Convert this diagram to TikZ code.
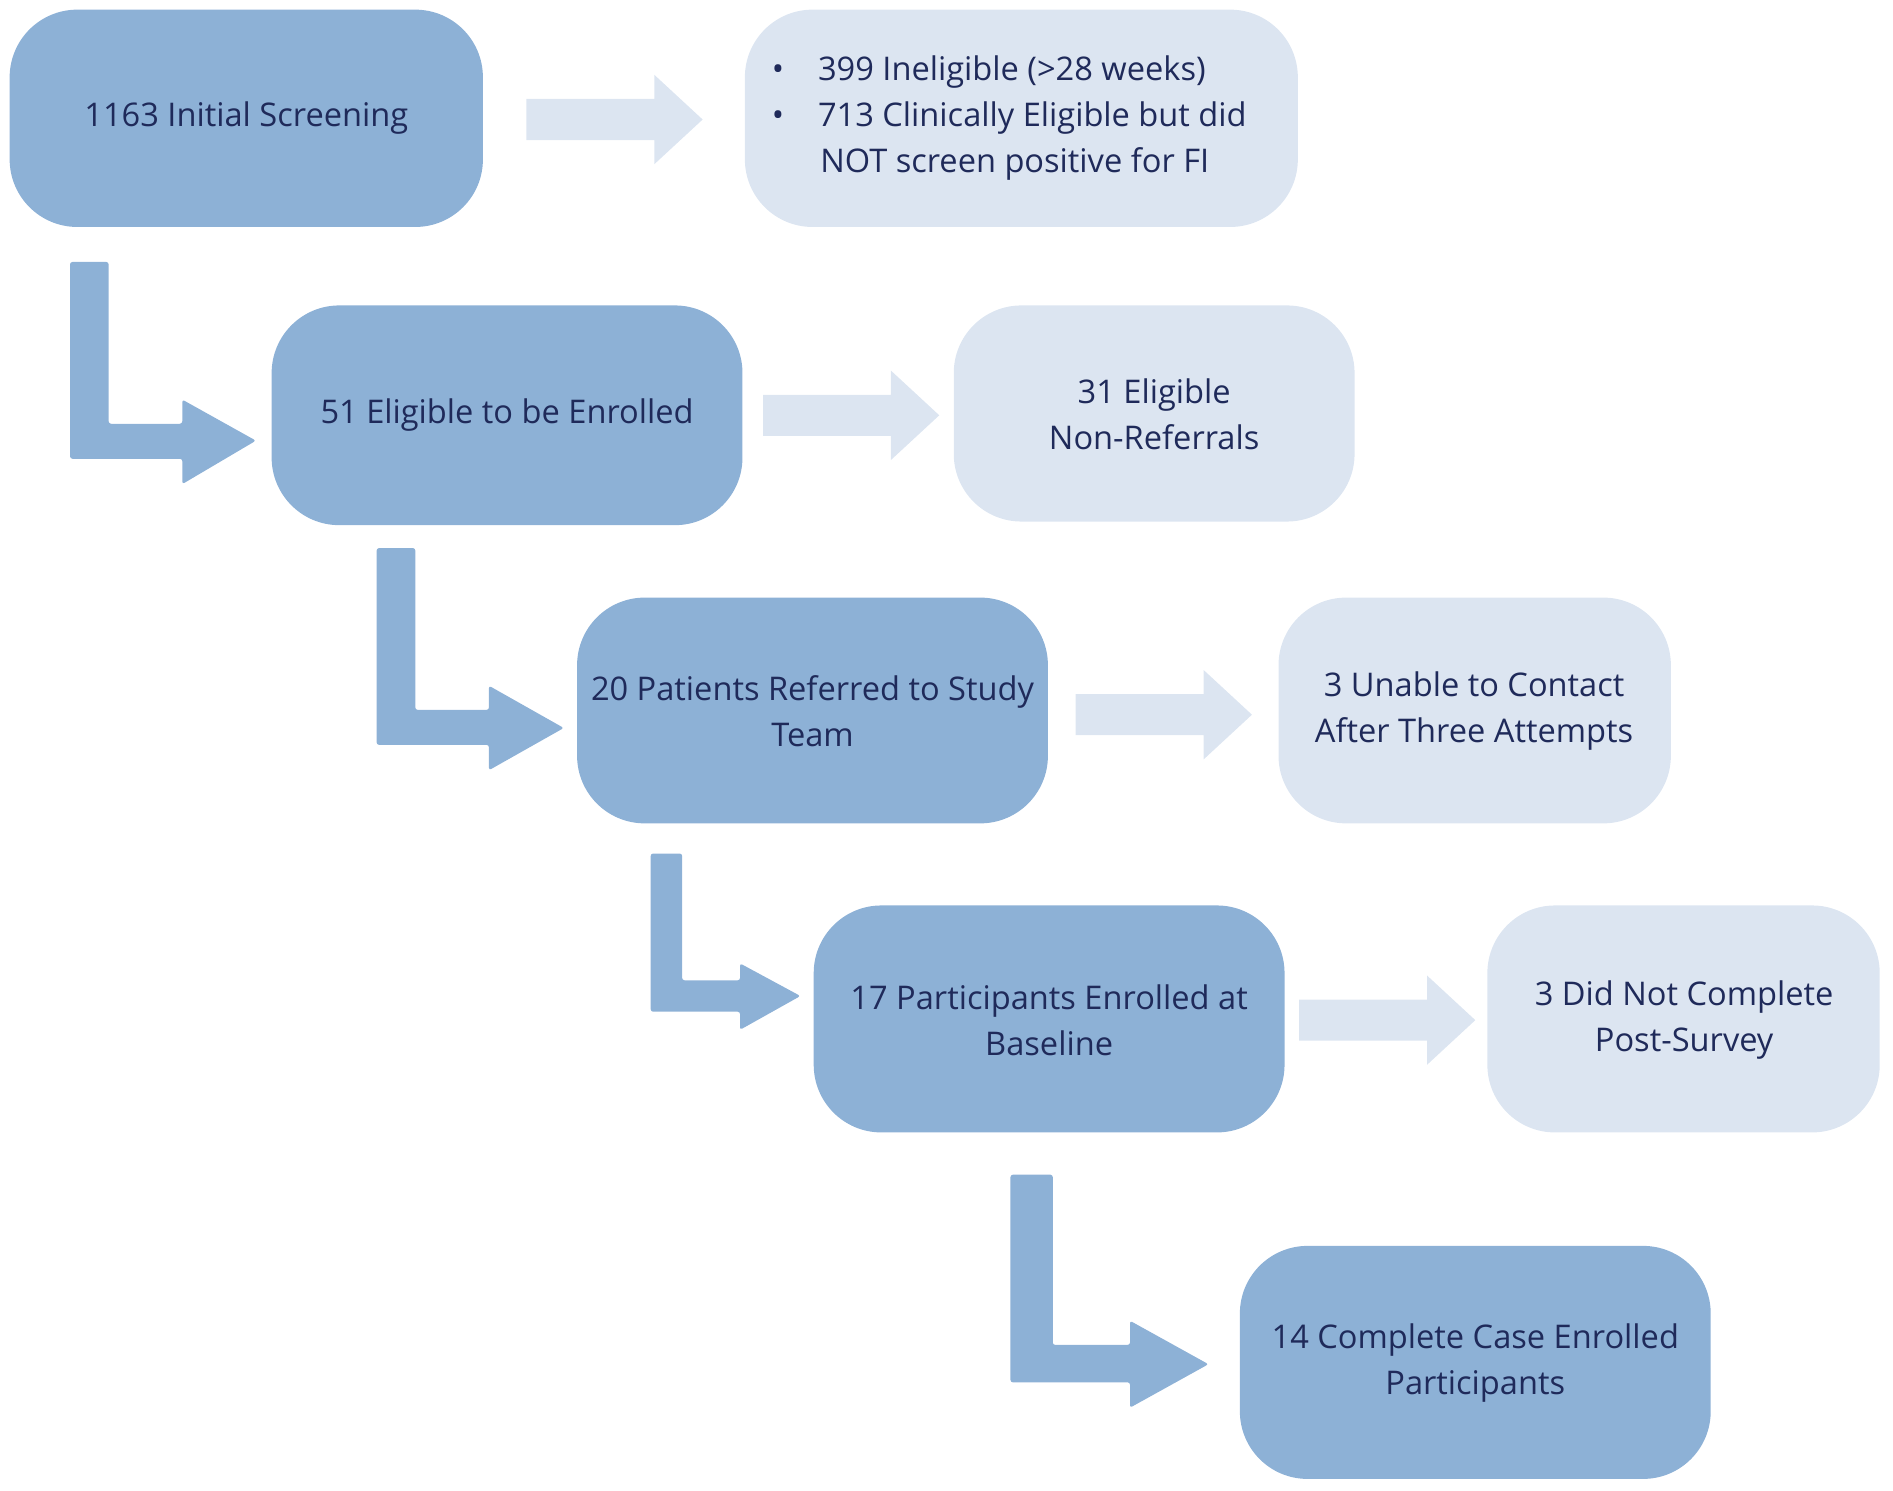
\documentclass[tikz,border=0pt]{standalone}
\usepackage{fontspec}
\setmainfont{Open Sans}
\definecolor{dk}{HTML}{8DB1D6}
\definecolor{lt}{HTML}{DCE5F1}
\definecolor{tx}{HTML}{1F2A5A}
\begin{document}
\begin{tikzpicture}[x=0.5pt,y=-0.5pt,
 dbox/.style={fill=dk,draw=none,rounded corners=28pt},
 lbox/.style={fill=lt,draw=none,rounded corners=28pt},
 lbl/.style={text=tx,font=\fontsize{13.5}{19}\selectfont,align=center},
 darr/.style={fill=dk,draw=none,rounded corners=1pt},
 larr/.style={fill=lt,draw=none}]
\useasboundingbox (0,0) rectangle (1568,1235);
% boxes
\fill[dbox] (8,8) rectangle (400,188);
\node[lbl] (a) at (204,98) {1163 Initial Screening};
\fill[lbox] (617,8) rectangle (1075,188);
\node[lbl,align=left] (a2) at (836,98) {\textbullet\hspace{14pt}399 Ineligible (>28 weeks)\\\textbullet\hspace{14pt}713 Clinically Eligible but did\\\hspace{20pt}NOT screen positive for FI};
\fill[dbox] (225,253) rectangle (615,435);
\node[lbl] (b) at (420,344) {51 Eligible to be Enrolled};
\fill[lbox] (790,253) rectangle (1122,432);
\node[lbl] (b2) at (956,343) {31 Eligible\\Non-Referrals};
\fill[dbox] (478,495) rectangle (868,682);
\node[lbl] (c) at (673,589) {20 Patients Referred to Study\\Team};
\fill[lbox] (1059,495) rectangle (1384,682);
\node[lbl] (c2) at (1221,589) {3 Unable to Contact\\After Three Attempts};
\fill[dbox] (674,750) rectangle (1064,938);
\node[lbl] (d) at (869,845) {17 Participants Enrolled at\\Baseline};
\fill[lbox] (1232,750) rectangle (1557,938);
\node[lbl] (d2) at (1395,845) {3 Did Not Complete\\Post-Survey};
\fill[dbox] (1027,1032) rectangle (1417,1225);
\node[lbl] (e) at (1222,1129) {14 Complete Case Enrolled\\Participants};
% right arrows
\foreach \x/\y in {436/99,632/344,891/592,1076/845}{
 \fill[larr] (\x,\y-17) -- (\x+106,\y-17) -- (\x+106,\y-37) -- (\x+146,\y) -- (\x+106,\y+37) -- (\x+106,\y+17) -- (\x,\y+17) -- cycle;}
% L arrows
\fill[darr] (58,217) -- (90,217) -- (90,351) -- (151,351) -- (151,331) -- (212,365) -- (151,401) -- (151,380) -- (58,380) -- cycle;
\fill[darr] (312,454) -- (344,454) -- (344,588) -- (405,588) -- (405,568) -- (467,603) -- (405,638) -- (405,617) -- (312,617) -- cycle;
\fill[darr] (539,707) -- (565,707) -- (565,812) -- (613,812) -- (613,798) -- (663,825) -- (613,853) -- (613,838) -- (539,838) -- cycle;
\fill[darr] (837,973) -- (872,973) -- (872,1114) -- (936,1114) -- (936,1094) -- (1001,1130) -- (936,1166) -- (936,1145) -- (837,1145) -- cycle;
\end{tikzpicture}
\end{document}
